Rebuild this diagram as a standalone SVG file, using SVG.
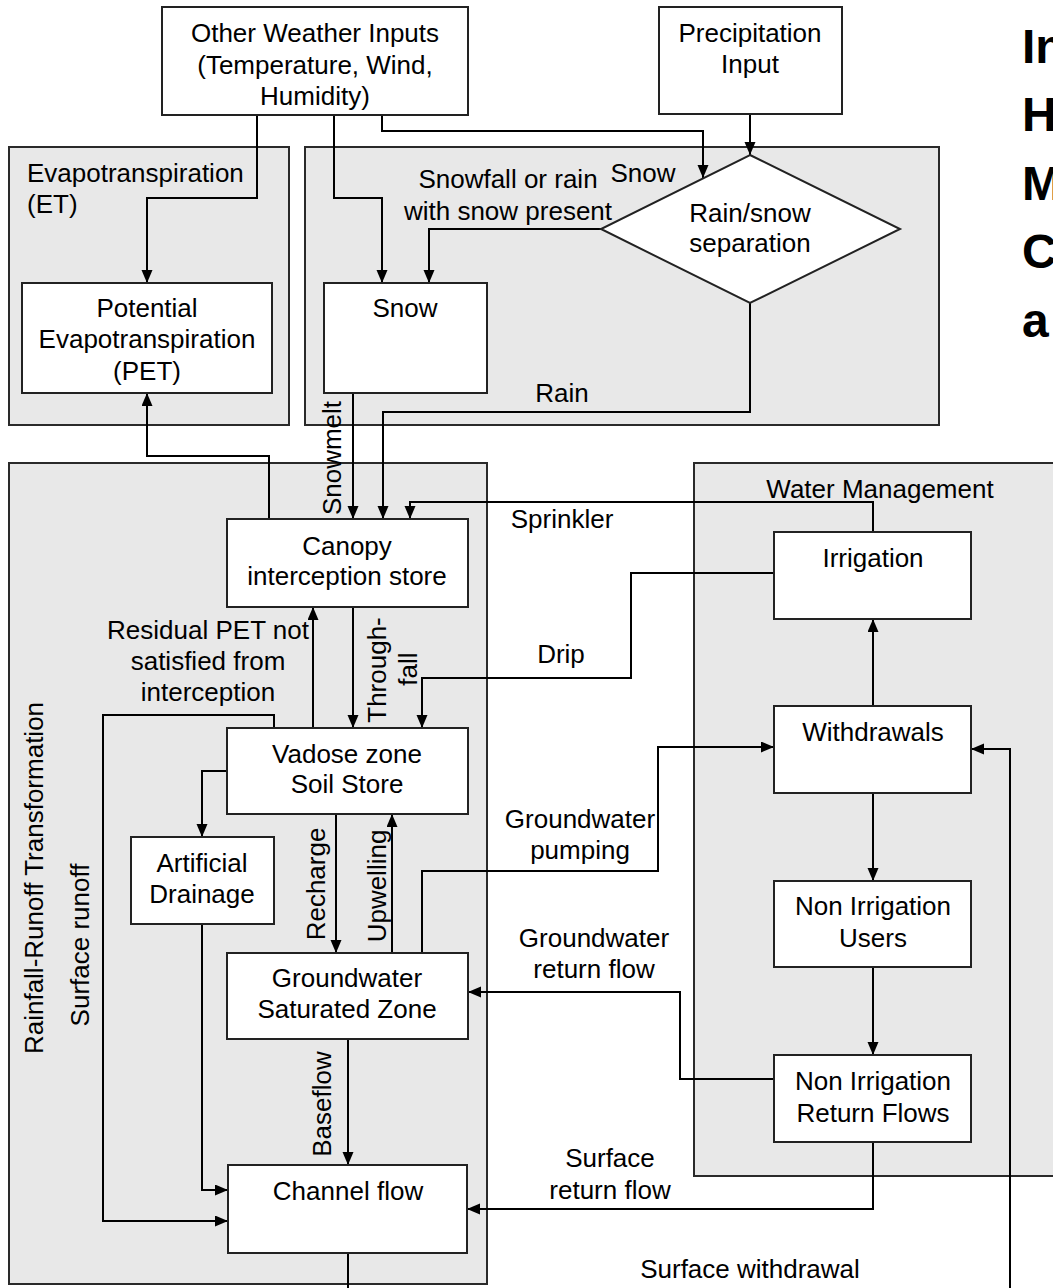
<svg xmlns="http://www.w3.org/2000/svg" width="1053" height="1288" viewBox="0 0 1053 1288">
  <style>
    text { font-family: "Liberation Sans", Arial, sans-serif; font-size: 26px; fill: #000; }
    .c { text-anchor: middle; }
    .title { font-weight: bold; font-size: 48px; }
    .panel { fill: #e8e8e8; stroke: #2a2a2a; stroke-width: 2; }
    .box { fill: #fff; stroke: #222; stroke-width: 2; }
    .conn { fill: none; stroke: #000; stroke-width: 2; }
    .arr { marker-end: url(#head); }
  </style>
  <defs>
    <marker id="head" markerUnits="userSpaceOnUse" markerWidth="14" markerHeight="12" refX="13" refY="5.5" orient="auto">
      <path d="M0,0 L13,5.5 L0,11 Z" fill="#000"/>
    </marker>
  </defs>

  <rect width="1053" height="1288" fill="#fff"/>

  <!-- Panels -->
  <g id="panels">
    <g id="panel-et">
      <rect class="panel" x="9" y="147" width="280" height="278"/>
      <text x="27" y="182">Evapotranspiration</text>
      <text x="27" y="213">(ET)</text>
    </g>
    <g id="panel-snow">
      <rect class="panel" x="305" y="147" width="634" height="278"/>
    </g>
    <g id="panel-runoff">
      <rect class="panel" x="9" y="463" width="478" height="821"/>
      <text class="c" transform="translate(43,878) rotate(-90)">Rainfall-Runoff Transformation</text>
    </g>
    <g id="panel-water">
      <rect class="panel" x="694" y="463" width="380" height="713"/>
      <text class="c" x="880" y="498">Water Management</text>
    </g>
  </g>

  <!-- Connectors -->
  <g id="connectors">
    <path class="conn arr" d="M257,115 V198 H147 V283"/>
    <path class="conn arr" d="M334,115 V198 H382 V283"/>
    <path class="conn arr" d="M382,115 V131 H703 V178"/>
    <path class="conn arr" d="M750,114 V155"/>
    <path class="conn arr" d="M601,229 H429 V283"/>
    <path class="conn arr" d="M750,303 V412 H383 V519"/>
    <path class="conn arr" d="M353,393 V519"/>
    <path class="conn arr" d="M873,532 V502 H410 V519"/>
    <path class="conn arr" d="M269,519 V456 H147 V393"/>
    <path class="conn arr" d="M313,728 V607"/>
    <path class="conn arr" d="M353,607 V728"/>
    <path class="conn arr" d="M774,573 H631 V678 H422 V728"/>
    <path class="conn arr" d="M274,728 V715 H103 V1221 H228"/>
    <path class="conn arr" d="M227,771 H202 V837"/>
    <path class="conn arr" d="M202,924 V1190 H228"/>
    <path class="conn arr" d="M336,814 V953"/>
    <path class="conn arr" d="M392,953 V814"/>
    <path class="conn arr" d="M422,953 V871 H658 V747 H774"/>
    <path class="conn arr" d="M348,1039 V1165"/>
    <path class="conn" d="M348,1253 V1288"/>
    <path class="conn arr" d="M873,706 V619"/>
    <path class="conn arr" d="M873,793 V881"/>
    <path class="conn arr" d="M873,967 V1055"/>
    <path class="conn arr" d="M774,1079 H680 V992 H468"/>
    <path class="conn arr" d="M873,1142 V1209 H467"/>
    <path class="conn arr" d="M1010,1288 V749 H971"/>

    <!-- connector labels -->
    <text class="c" x="508" y="188">Snowfall or rain</text>
    <text class="c" x="508" y="220">with snow present</text>
    <text class="c" x="643" y="182">Snow</text>
    <text class="c" x="562" y="402">Rain</text>
    <text class="c" transform="translate(341,458) rotate(-90)">Snowmelt</text>
    <text class="c" x="562" y="528">Sprinkler</text>
    <text class="c" x="208" y="639">Residual PET not</text>
    <text class="c" x="208" y="670">satisfied from</text>
    <text class="c" x="208" y="701">interception</text>
    <text class="c" transform="translate(386,670) rotate(-90)">Through-</text>
    <text class="c" transform="translate(417,669) rotate(-90)">fall</text>
    <text class="c" x="561" y="663">Drip</text>
    <text class="c" transform="translate(89,945) rotate(-90)">Surface runoff</text>
    <text class="c" transform="translate(325,884) rotate(-90)">Recharge</text>
    <text class="c" transform="translate(386,886) rotate(-90)">Upwelling</text>
    <text class="c" x="580" y="828">Groundwater</text>
    <text class="c" x="580" y="859">pumping</text>
    <text class="c" x="594" y="947">Groundwater</text>
    <text class="c" x="594" y="978">return flow</text>
    <text class="c" transform="translate(331,1104) rotate(-90)">Baseflow</text>
    <text class="c" x="610" y="1167">Surface</text>
    <text class="c" x="610" y="1199">return flow</text>
    <text class="c" x="750" y="1278">Surface withdrawal</text>
  </g>

  <!-- Nodes -->
  <g id="weather-inputs">
    <rect class="box" x="162" y="7" width="306" height="108"/>
    <text class="c" x="315" y="42">Other Weather Inputs</text>
    <text class="c" x="315" y="74">(Temperature, Wind,</text>
    <text class="c" x="315" y="105">Humidity)</text>
  </g>
  <g id="precipitation">
    <rect class="box" x="659" y="7" width="183" height="107"/>
    <text class="c" x="750" y="42">Precipitation</text>
    <text class="c" x="750" y="73">Input</text>
  </g>
  <g id="rain-snow">
    <polygon class="box" points="750,155 900,229 750,303 601,229"/>
    <text class="c" x="750" y="222">Rain/snow</text>
    <text class="c" x="750" y="252">separation</text>
  </g>
  <g id="pet">
    <rect class="box" x="22" y="283" width="250" height="110"/>
    <text class="c" x="147" y="317">Potential</text>
    <text class="c" x="147" y="348">Evapotranspiration</text>
    <text class="c" x="147" y="380">(PET)</text>
  </g>
  <g id="snow">
    <rect class="box" x="324" y="283" width="163" height="110"/>
    <text class="c" x="405" y="317">Snow</text>
  </g>
  <g id="canopy">
    <rect class="box" x="227" y="519" width="241" height="88"/>
    <text class="c" x="347" y="555">Canopy</text>
    <text class="c" x="347" y="585">interception store</text>
  </g>
  <g id="vadose">
    <rect class="box" x="227" y="728" width="241" height="86"/>
    <text class="c" x="347" y="763">Vadose zone</text>
    <text class="c" x="347" y="793">Soil Store</text>
  </g>
  <g id="artificial-drainage">
    <rect class="box" x="131" y="837" width="143" height="87"/>
    <text class="c" x="202" y="872">Artificial</text>
    <text class="c" x="202" y="903">Drainage</text>
  </g>
  <g id="groundwater">
    <rect class="box" x="227" y="953" width="241" height="86"/>
    <text class="c" x="347" y="987">Groundwater</text>
    <text class="c" x="347" y="1018">Saturated Zone</text>
  </g>
  <g id="channel">
    <rect class="box" x="228" y="1165" width="239" height="88"/>
    <text class="c" x="348" y="1200">Channel flow</text>
  </g>
  <g id="irrigation">
    <rect class="box" x="774" y="532" width="197" height="87"/>
    <text class="c" x="873" y="567">Irrigation</text>
  </g>
  <g id="withdrawals">
    <rect class="box" x="774" y="706" width="197" height="87"/>
    <text class="c" x="873" y="741">Withdrawals</text>
  </g>
  <g id="non-irrigation-users">
    <rect class="box" x="774" y="881" width="197" height="86"/>
    <text class="c" x="873" y="915">Non Irrigation</text>
    <text class="c" x="873" y="947">Users</text>
  </g>
  <g id="non-irrigation-returns">
    <rect class="box" x="774" y="1055" width="197" height="87"/>
    <text class="c" x="873" y="1090">Non Irrigation</text>
    <text class="c" x="873" y="1122">Return Flows</text>
  </g>

  <!-- Heading, running off the right edge -->
  <g id="heading">
    <text class="title" x="1022" y="63">In</text>
    <text class="title" x="1022" y="131">H</text>
    <text class="title" x="1022" y="200">M</text>
    <text class="title" x="1022" y="268">C</text>
    <text class="title" x="1022" y="337">a</text>
  </g>
</svg>
